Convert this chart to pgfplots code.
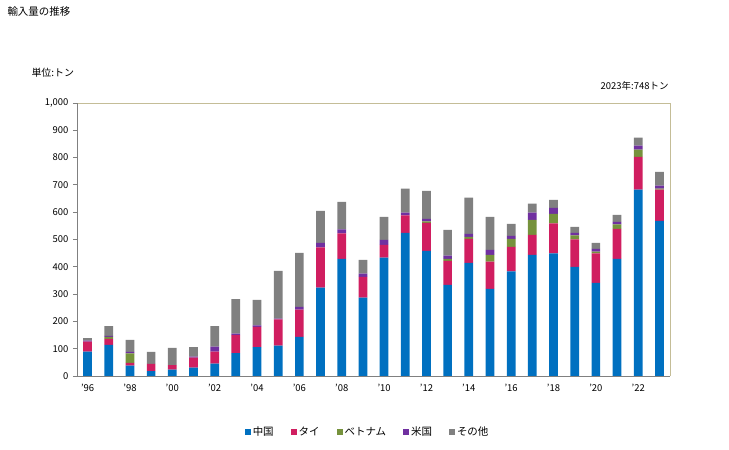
\documentclass[border=0pt]{standalone}
\usepackage{pgfplots}
\pgfplotsset{compat=1.18}
\usepackage{fontspec}
\setmainfont{Noto Sans CJK JP}
\definecolor{cChina}{RGB}{0,112,192}
\definecolor{cThai}{RGB}{208,30,96}
\definecolor{cViet}{RGB}{118,146,60}
\definecolor{cUS}{RGB}{112,48,160}
\definecolor{cOther}{RGB}{128,128,128}
\definecolor{frameTan}{RGB}{196,189,151}
\definecolor{axGray}{RGB}{128,128,128}
\begin{document}
\begin{tikzpicture}
\path[use as bounding box] (0bp,0bp) rectangle (729bp,450bp);
\node[anchor=west,font=\fontsize{10.5}{12}\selectfont] at (4bp,438bp) {輸入量の推移};
\node[anchor=west,font=\fontsize{10}{12}\selectfont] at (28bp,377bp) {単位:トン};
\node[anchor=east,font=\fontsize{9.5}{12}\selectfont] at (672bp,364bp) {2023年:748トン};
\draw[frameTan] (77bp,347bp) -- (670bp,347bp) -- (670bp,74bp);
\begin{axis}[
  at={(77bp,74bp)}, anchor=south west,
  scale only axis, width=593bp, height=273bp,
  ybar stacked, bar width=8.7bp,
  xmin=-0.5, xmax=27.5, ymin=0, ymax=1000,
  ytick={0,100,...,1000},
  xtick={0,2,...,26},
  xticklabels={'96,'98,'00,'02,'04,'06,'08,'10,'12,'14,'16,'18,'20,'22},
  axis x line*=bottom, axis y line*=left,
  axis line style={axGray, line width=0.8pt},
  x axis line style={-}, y axis line style={-},
  major tick length=4bp,
  xtick style={draw=none},
  ytick style={axGray, line width=0.8pt},
  tick align=outside,
  /pgf/number format/1000 sep={,},
  /pgf/number format/assume math mode=true,
  ticklabel style={font=\fontsize{9.5}{11}\selectfont},
  yticklabel style={xshift=-1bp},
  xticklabel style={yshift=-1bp},
  legend style={at={(0.49,-0.205)}, anchor=center, draw=none, legend columns=5,
    font=\fontsize{10.5}{12}\selectfont, /tikz/every even column/.append style={column sep=15bp}},
  legend image code/.code={\fill[#1] (0bp,-3bp) rectangle (6bp,3bp);},
  every axis plot/.append style={draw=none},
]
\addplot[fill=cChina] coordinates {(0,89)(1,114)(2,38)(3,18)(4,23)(5,31)(6,45)(7,84)(8,106)(9,111)(10,143)(11,324)(12,429)(13,287)(14,434)(15,524)(16,458)(17,334)(18,414)(19,319)(20,383)(21,444)(22,449)(23,400)(24,341)(25,429)(26,683)(27,568)};
\addplot[fill=cThai] coordinates {(0,37)(1,22)(2,10)(3,26)(4,17)(5,36)(6,44)(7,66)(8,74)(9,96)(10,100)(11,147)(12,93)(13,76)(14,46)(15,64)(16,103)(17,88)(18,88)(19,100)(20,90)(21,73)(22,110)(23,100)(24,108)(25,110)(26,120)(27,115)};
\addplot[fill=cViet] coordinates {(0,0)(1,7)(2,35)(3,0)(4,0)(5,0)(6,0)(7,0)(8,0)(9,0)(10,0)(11,0)(12,0)(13,0)(14,0)(15,0)(16,5)(17,7)(18,8)(19,25)(20,29)(21,55)(22,35)(23,15)(24,7)(25,16)(26,26)(27,3)};
\addplot[fill=cUS] coordinates {(0,4)(1,4)(2,5)(3,0)(4,0)(5,4)(6,19)(7,5)(8,5)(9,3)(10,10)(11,17)(12,15)(13,12)(14,19)(15,10)(16,10)(17,12)(18,11)(19,18)(20,11)(21,26)(22,22)(23,9)(24,10)(25,10)(26,15)(27,11)};
\addplot[fill=cOther] coordinates {(0,9)(1,36)(2,44)(3,44)(4,63)(5,35)(6,75)(7,127)(8,94)(9,175)(10,198)(11,117)(12,101)(13,50)(14,84)(15,88)(16,102)(17,94)(18,132)(19,121)(20,44)(21,33)(22,29)(23,22)(24,22)(25,25)(26,29)(27,51)};
\legend{中国,タイ,ベトナム,米国,その他}
\end{axis}
\end{tikzpicture}
\end{document}
